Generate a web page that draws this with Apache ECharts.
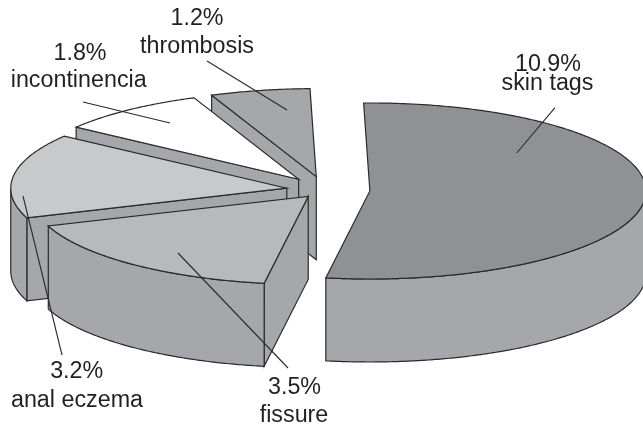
<!DOCTYPE html>
<html>
<head>
<meta charset="utf-8">
<script src="https://cdn.jsdelivr.net/npm/echarts@6/dist/echarts.min.js"></script>
<style>html,body{margin:0;padding:0;background:#fff}#c{width:643px;height:426px}</style>
</head>
<body>
<div id="c"></div>
<script>
// Data (paint order: back slices first)
var categories = ['thrombosis', 'incontinencia', 'anal eczema', 'fissure', 'skin tags'];
var percents = [1.2, 1.8, 3.2, 3.5, 10.9];

// Layout and styling
var explode = [0.155, 0.155, 0.14, 0.095, 0.163];
var topColors = ['#a6a7aa', '#ffffff', '#c8c9cb', '#b8b9bb', '#909195'];
var wallColor = '#a6a7aa';
var edgeColor = '#2b2a2b';
var textColor = '#231f20';
var pie = {cx: 325, cy: 190, rx: 276, ry: 88, depth: 83, endAngle: -1.3};
var labels = [
  {v: [197, 25], n: [197, 52.7], from: [207, 61], to: [287, 110]},
  {v: [80, 60], n: [78.7, 87], from: [83, 102], to: [170, 123]},
  {v: [76.7, 378], n: [77, 406.7], from: [62, 355], to: [23, 196]},
  {v: [294.5, 394], n: [294, 421.7], from: [288, 368], to: [178, 253]},
  {v: [548, 70.7], n: [547.5, 90], from: [555, 107.7], to: [516.7, 153]}
];
var FONT = '23.3px "Liberation Sans", Arial, sans-serif';

var total = percents.reduce(function (a, b) { return a + b; }, 0);
var RAD = Math.PI / 180;

function pt(c, deg, dz) {
  return [c[0] + Math.sin(deg * RAD) * pie.rx, c[1] - Math.cos(deg * RAD) * pie.ry + (dz || 0)];
}
function arc(c, a, b, dz) {
  var out = [], n = Math.max(2, Math.ceil(Math.abs(b - a) * 2));
  for (var i = 0; i <= n; i++) out.push(pt(c, a + (b - a) * i / n, dz));
  return out;
}
function poly(points, fill, z2) {
  return {
    type: 'polygon', z2: z2, shape: {points: points},
    style: {fill: fill, stroke: edgeColor, lineWidth: 1.2, lineJoin: 'miter'}
  };
}
function txt(text, p) {
  return {
    type: 'text', z2: 200,
    style: {text: text, x: p[0], y: p[1] - 6.4, font: FONT, fill: textColor, align: 'center', verticalAlign: 'middle'}
  };
}

function renderItem(params, api) {
  var i = params.dataIndex;
  var after = 0;
  for (var k = 0; k < i; k++) after += percents[k];
  var end = pie.endAngle + 360 - after / total * 360;
  var start = end - api.value(0) / total * 360;
  var mid = (start + end) / 2;
  var e = explode[i];
  var c = [pie.cx + Math.sin(mid * RAD) * pie.rx * e, pie.cy - Math.cos(mid * RAD) * pie.ry * e];
  var base = i * 10;
  var kids = [];

  // radial wall on the leading edge (only when it faces the viewer)
  var sc = pt(c, start);
  if (Math.sin(start * RAD) < -0.1) {
    kids.push(poly([c, sc, [sc[0], sc[1] + pie.depth], [c[0], c[1] + pie.depth]], wallColor, base + 1));
  }
  // outer curved wall, front half only
  var a = Math.max(start, 90), b = Math.min(end, 270);
  if (b > a) {
    kids.push(poly(arc(c, a, b, 0).concat(arc(c, b, a, pie.depth)), wallColor, base + 2));
  }
  // top face
  kids.push(poly([c].concat(arc(c, start, end, 0)), topColors[i], base + 3));

  // leader and label
  var l = labels[i];
  kids.push({
    type: 'line', z2: 200,
    shape: {x1: l.from[0], y1: l.from[1], x2: l.to[0], y2: l.to[1]},
    style: {stroke: edgeColor, lineWidth: 1.1}
  });
  kids.push(txt(api.value(0).toFixed(1) + '%', l.v));
  kids.push(txt(categories[i], l.n));
  return {type: 'group', children: kids};
}

var chart = echarts.init(document.getElementById('c'), null, {renderer: 'canvas'});
chart.setOption({
  animation: false,
  backgroundColor: '#ffffff',
  series: [{
    type: 'custom',
    coordinateSystem: 'none',
    silent: true,
    renderItem: renderItem,
    data: percents.map(function (v, i) { return {name: categories[i], value: [v]}; })
  }]
});
</script>
</body>
</html>
